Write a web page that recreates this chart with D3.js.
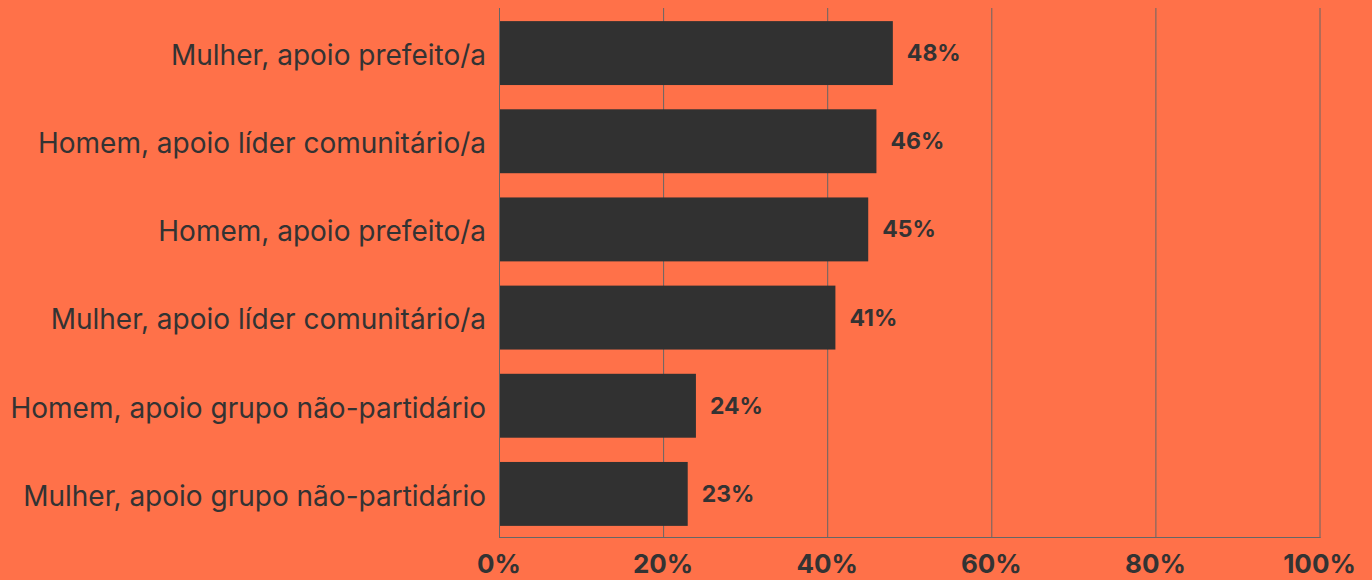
<!DOCTYPE html>
<html>
<head>
<meta charset="utf-8">
<script src="https://cdn.jsdelivr.net/npm/d3@7"></script>
<style>
  html, body { margin: 0; padding: 0; background: #FF7149; }
  svg { display: block; font-family: Inter, "Noto Sans", sans-serif; }
</style>
</head>
<body>
<div id="chart"></div>
<script>
const categories = [
  'Mulher, apoio prefeito/a',
  'Homem, apoio líder comunitário/a',
  'Homem, apoio prefeito/a',
  'Mulher, apoio líder comunitário/a',
  'Homem, apoio grupo não-partidário',
  'Mulher, apoio grupo não-partidário'
];
const values = [48, 46, 45, 41, 24, 23];
const ticks = [0, 20, 40, 60, 80, 100];

const width = 1372;
const height = 580;
const margin = { top: 9, right: 52, bottom: 42, left: 499 };

const svg = d3.select('#chart')
  .append('svg')
  .attr('width', width)
  .attr('height', height);

const x = d3.scaleLinear()
  .domain([0, 100])
  .range([margin.left, width - margin.right - 0.5]);

const y = d3.scaleBand()
  .domain(categories)
  .range([margin.top, height - margin.bottom])
  .paddingInner(0.275)
  .paddingOuter(0.1375);

// gridlines
svg.append('g')
  .selectAll('line')
  .data(ticks)
  .enter().append('line')
  .attr('x1', d => x(d) + 0.5)
  .attr('x2', d => x(d) + 0.5)
  .attr('y1', 8)
  .attr('y2', height - margin.bottom)
  .attr('stroke', '#666')
  .attr('stroke-width', 1);

svg.append('line')
  .attr('x1', x(0))
  .attr('x2', x(100) + 1)
  .attr('y1', height - margin.bottom - 0.5)
  .attr('y2', height - margin.bottom - 0.5)
  .attr('stroke', '#666');

// bars
svg.selectAll('.bar')
  .data(values)
  .enter().append('rect')
  .attr('class', 'bar')
  .attr('x', x(0) + 1)
  .attr('y', (d, i) => y(categories[i]))
  .attr('width', d => x(d) - x(0) - 1)
  .attr('height', y.bandwidth())
  .attr('fill', '#313131');

// value labels
svg.selectAll('.val')
  .data(values)
  .enter().append('text')
  .attr('class', 'val')
  .attr('x', d => x(d) + 14)
  .attr('y', (d, i) => y(categories[i]) + y.bandwidth() / 2)
  .attr('dy', '0.35em')
  .attr('fill', '#333')
  .attr('font-size', 23)
  .attr('font-weight', 'bold')
  .text(d => d + '%');

// category labels
svg.append('g')
  .selectAll('text')
  .data(categories)
  .enter().append('text')
  .attr('x', margin.left - 13)
  .attr('y', d => y(d) + y.bandwidth() / 2 + 2)
  .attr('dy', '0.35em')
  .attr('text-anchor', 'end')
  .attr('fill', '#333')
  .attr('font-size', 28)
  .text(d => d);

// x axis labels
svg.append('g')
  .selectAll('text')
  .data(ticks)
  .enter().append('text')
  .attr('x', d => x(d))
  .attr('y', 564)
  .attr('dy', '0.35em')
  .attr('text-anchor', 'middle')
  .attr('fill', '#333')
  .attr('font-size', 26)
  .attr('font-weight', 'bold')
  .text(d => d + '%');
</script>
</body>
</html>
